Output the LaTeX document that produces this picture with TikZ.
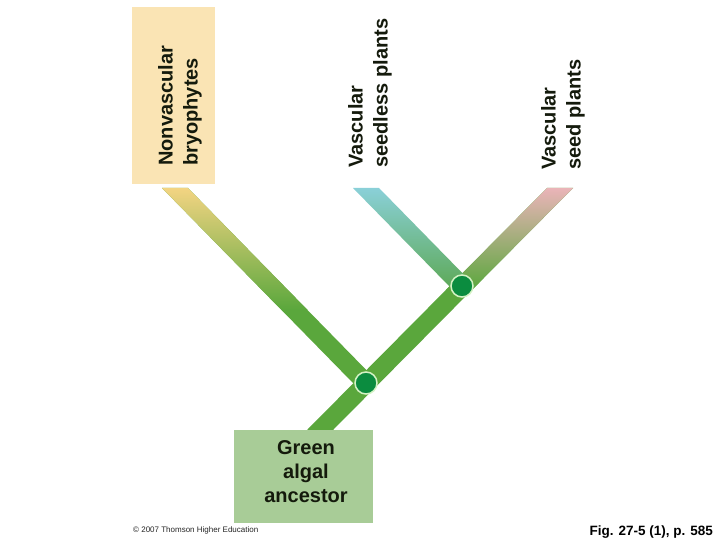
\documentclass[tikz,border=0pt]{standalone}
\usepackage{fontspec}
\setmainfont{Liberation Sans}
\usetikzlibrary{calc}
\definecolor{trunkgreen}{HTML}{5AA73C}
\definecolor{nvfill}{HTML}{FAE4B4}
\definecolor{ancfill}{HTML}{A8CC97}
\definecolor{yellowtip}{HTML}{F3D482}
\definecolor{olivemid}{HTML}{B6BE5C}
\definecolor{cyantip}{HTML}{8AD0D8}
\definecolor{cyanmid}{HTML}{6CBA96}
\definecolor{seedlessend}{HTML}{5EAA5A}
\definecolor{pinktip}{HTML}{EAB4B8}
\definecolor{pinkmid}{HTML}{B2A684}
\definecolor{nodegreen}{HTML}{0B8C3F}
\definecolor{noderim}{HTML}{D4F2C4}
\definecolor{textdark}{HTML}{141A0C}
\begin{document}
\begin{tikzpicture}[x=1pt,y=-1pt,
  labelfont/.style={font=\fontsize{20}{25}\selectfont\bfseries, text=textdark},
  sidelabel/.style={labelfont, rotate=90, anchor=north west, align=left, inner sep=0pt},
  branchnode/.style={circle, fill=nodegreen, draw=noderim, line width=1.5pt, minimum size=22pt, inner sep=0pt}]
\useasboundingbox (0,0) rectangle (720,540);
\fill[white] (0,0) rectangle (720,540);

% tips and root
\coordinate (tipN) at (175,188);
\coordinate (tipS) at (366,188);
\coordinate (tipP) at (560,188);
\coordinate (root) at (320,430);
\coordinate (n1pos) at (366,383);
\coordinate (n2pos) at (462,286);

% trunk (seed plants lineage)
\fill[trunkgreen] ($(root)+(-13,0)$) -- ($(root)+(13,0)$) -- ($(tipP)+(13,0)$) -- ($(tipP)+(-13,0)$) -- cycle;
\shade[top color=pinktip, middle color=pinkmid, bottom color=trunkgreen]
  ($(tipP)+(-13,0)$) -- ($(tipP)+(13,0)$) -- (471.8,290) -- (445.8,290) -- cycle;

% bryophyte branch
\fill[trunkgreen] ($(tipN)+(-13,0)$) -- ($(tipN)+(13,0)$) -- ($(n1pos)+(13,0)$) -- ($(n1pos)+(-13,0)$) -- cycle;
\shade[top color=yellowtip, middle color=olivemid, bottom color=trunkgreen]
  ($(tipN)+(-13,0)$) -- ($(tipN)+(13,0)$) -- (307.5,310) -- (281.5,310) -- cycle;

% seedless branch
\shade[top color=cyantip, middle color=cyanmid, bottom color=seedlessend]
  ($(tipS)+(-13,0)$) -- ($(tipS)+(13,0)$) -- ($(n2pos)+(13,0)$) -- ($(n2pos)+(-13,0)$) -- cycle;

% branch points
\node[branchnode] (n1) at (n1pos) {};
\node[branchnode] (n2) at (n2pos) {};

% boxes
\node[fill=nvfill, minimum width=83pt, minimum height=177pt, inner sep=0pt] (nvbox) at (173.5,95.5) {};
\node[fill=ancfill, minimum width=139pt, minimum height=92.5pt, inner sep=0pt] (ancbox) at (303.5,476.25) {};

% labels
\node[sidelabel] (nvlabel) at (158,166) {Nonvascular\\bryophytes};
\node[sidelabel] (vslabel) at (348,168) {Vascular\\seedless plants};
\node[sidelabel] (vplabel) at (541,170) {Vascular\\seed plants};
\node[labelfont, align=center, anchor=north, inner sep=0pt, font=\fontsize{20}{24}\selectfont\bfseries] (anclabel) at (306,440) {Green\\algal\\ancestor};

\node[anchor=base west, inner sep=0pt, font=\fontsize{8}{9}\selectfont, text=black!85] (copy) at (133,532) {\textcopyright{} 2007 Thomson Higher Education};
\node[anchor=base east, inner sep=0pt, font=\fontsize{13.5}{15}\selectfont\bfseries, text=black] (fig) at (713,535) {Fig. 27-5 (1), p. 585};
\end{tikzpicture}
\end{document}
